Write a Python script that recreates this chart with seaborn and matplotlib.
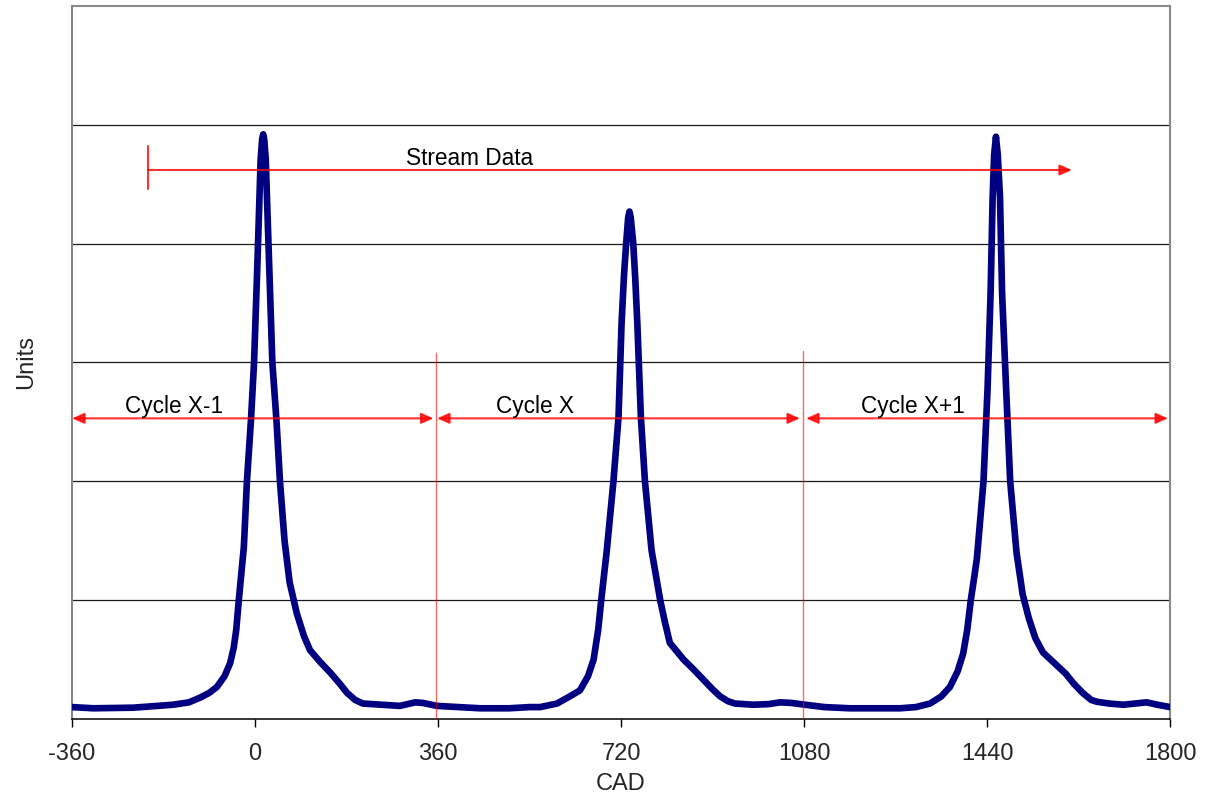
import matplotlib
matplotlib.use("Agg")
import matplotlib.pyplot as plt
import seaborn as sns
import pandas as pd

# ---- data ----
cad = [-360, -318, -240, -161, -130, -108, -90, -75, -60, -49, -42, -37, -32, -22, -16, -8, -2, 4, 8, 11, 14, 16, 18, 21, 24, 28, 34, 42, 49,
       58, 68, 82, 96, 108, 128, 148, 166, 181, 197, 212, 250, 285, 300, 315, 330, 358, 400, 443, 500,
       540, 561, 594, 615, 639, 655, 666, 675, 681, 692, 705, 715, 721, 726, 730, 734, 736.5, 739, 744, 748, 752,
       759, 767, 780, 797, 806, 816, 843, 862, 882, 900, 915, 930, 944, 980, 1010, 1033, 1055, 1082, 1120, 1170,
       1230, 1269, 1300, 1328, 1350, 1367, 1382, 1393, 1401, 1408, 1415, 1420, 1433, 1441, 1447, 1451, 1454,
       1457.5, 1461, 1465.5, 1469.5, 1477.5, 1485.5, 1498, 1510, 1522, 1535, 1550, 1570, 1595, 1610, 1628, 1645,
       1656, 1680, 1708, 1730, 1754, 1775, 1800]
units = [0.10, 0.09, 0.095, 0.12, 0.14, 0.18, 0.22, 0.27, 0.36, 0.47, 0.60, 0.75, 1.0, 1.45, 2.0, 2.52, 3.0, 3.75, 4.31, 4.71, 4.88, 4.92, 4.88,
         4.71, 4.31, 3.75, 3.0, 2.52, 2.0,
         1.5, 1.15, 0.89, 0.70, 0.58, 0.48, 0.39, 0.30, 0.22, 0.16, 0.13, 0.12, 0.11, 0.125, 0.14, 0.135, 0.11, 0.10, 0.09, 0.09,
         0.10, 0.10, 0.13, 0.18, 0.24, 0.36, 0.50, 0.75, 1.0, 1.42, 2.0, 2.54, 3.33, 3.75, 4.0, 4.22, 4.27, 4.22, 4.0, 3.7, 3.33,
         2.54, 2.0, 1.42, 1.0, 0.82, 0.64, 0.50, 0.42, 0.33, 0.25, 0.19, 0.15, 0.13, 0.12, 0.125, 0.14, 0.135, 0.12, 0.10, 0.09,
         0.09, 0.09, 0.10, 0.13, 0.19, 0.27, 0.40, 0.55, 0.75, 1.0, 1.2, 1.35, 2.0, 2.78, 3.59, 4.39, 4.75,
         4.90, 4.75, 4.39, 3.59, 2.78, 2.0, 1.4, 1.05, 0.85, 0.68, 0.56, 0.48, 0.38, 0.30, 0.22, 0.16,
         0.145, 0.13, 0.12, 0.13, 0.14, 0.12, 0.10]

xticks = [-360, 0, 360, 720, 1080, 1440, 1800]
ygrid = [1, 2, 3, 4, 5]

cycle_labels = ["Cycle X-1", "Cycle X", "Cycle X+1"]
cycle_starts = [-360, 358, 1084]
cycle_ends = [351, 1072, 1796]
cycle_text_x = [-159, 551, 1294]
cycle_bounds = [355, 1077]

stream_label = "Stream Data"
stream_start, stream_end = -210, 1607

# ---- figure ----
sns.set_theme(style="white")
plt.rcParams['font.family'] = ['Liberation Sans', 'DejaVu Sans']

fig = plt.figure(figsize=(12.05, 8.01), dpi=100)
ax = fig.add_axes([0.0598, 0.1024, 0.9112, 0.8901])

for g in ygrid:
    ax.axhline(g, color='#1a1a1a', lw=0.9, zorder=1)

df = pd.DataFrame({"CAD": cad, "Units": units})
sns.lineplot(data=df, x="CAD", y="Units", sort=False, estimator=None, ax=ax,
             color='#000080', lw=4.8, zorder=3,
             solid_capstyle='round', solid_joinstyle='round')

red = (1.0, 0.0, 0.0)
# cycle boundaries
for b, top in zip(cycle_bounds, [3.08, 3.1]):
    ax.plot([b, b], [0, top], color=red, alpha=0.6, lw=1.0, zorder=4)

# cycle arrows
ay = 2.53
for s, e, lab, tx in zip(cycle_starts, cycle_ends, cycle_labels, cycle_text_x):
    ax.annotate('', xy=(e, ay), xytext=(s, ay),
                arrowprops=dict(arrowstyle='<|-|>,head_length=0.36,head_width=0.16',
                                color=red, alpha=0.8, lw=1.5, shrinkA=0, shrinkB=0,
                                mutation_scale=20), zorder=5)
    ax.text(tx, 2.63, lab, ha='center', va='center', fontsize=16.3, color='black', zorder=6)

# stream data arrow
sy = 4.62
ax.annotate('', xy=(stream_end, sy), xytext=(stream_start, sy),
            arrowprops=dict(arrowstyle='-|>,head_length=0.36,head_width=0.16',
                            color=red, alpha=0.8, lw=1.5, shrinkA=0, shrinkB=0,
                            mutation_scale=20), zorder=5)
ax.plot([stream_start, stream_start], [4.46, 4.82], color=red, alpha=0.8, lw=1.5, zorder=5)
ax.text(421, 4.72, stream_label, ha='center', va='center', fontsize=16.3, color='black', zorder=6)

ax.set_xlim(-360, 1800)
ax.set_ylim(0, 6)
ax.set_xticks(xticks)
ax.set_xticklabels([str(t) for t in xticks])
ax.set_yticks([])
ax.tick_params(axis='x', direction='out', length=6, width=1.0, color='black',
               labelsize=17, pad=11, bottom=True)
ax.set_xlabel("CAD", fontsize=17, labelpad=6)
ax.set_ylabel("Units", fontsize=17, labelpad=25)

for side in ['top', 'right', 'left']:
    ax.spines[side].set_color('#888888')
    ax.spines[side].set_linewidth(1.5)
ax.spines['bottom'].set_color('black')
ax.spines['bottom'].set_linewidth(1.1)

fig.savefig("out.png", dpi=100)
